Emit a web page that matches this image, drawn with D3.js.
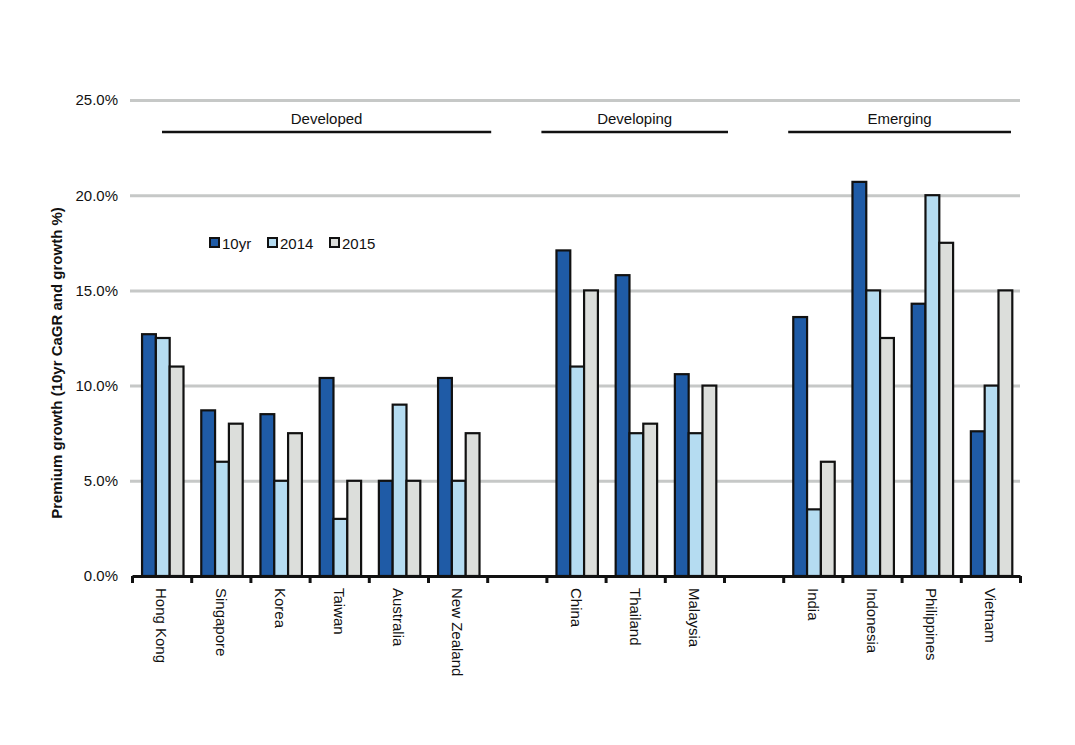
<!DOCTYPE html>
<html>
<head>
<meta charset="utf-8">
<script src="https://cdn.jsdelivr.net/npm/d3@7/dist/d3.min.js"></script>
<style>
	body { margin: 0; background: #fff; }
	svg text { font-family: "Liberation Sans", Arial, sans-serif; fill: #111; }
</style>
</head>
<body>
<svg id="chart" width="1075" height="745"></svg>
<script>
var categories = ["Hong Kong", "Singapore", "Korea", "Taiwan", "Australia", "New Zealand",
	"China", "Thailand", "Malaysia",
	"India", "Indonesia", "Philippines", "Vietnam"];
var groupOf = ["Developed", "Developed", "Developed", "Developed", "Developed", "Developed",
	"Developing", "Developing", "Developing",
	"Emerging", "Emerging", "Emerging", "Emerging"];
var groupNames = ["Developed", "Developing", "Emerging"];
var seriesNames = ["10yr", "2014", "2015"];
var cagr10yr = [12.7, 8.7, 8.5, 10.4, 5.0, 10.4, 17.1, 15.8, 10.6, 13.6, 20.7, 14.3, 7.6];
var growth2014 = [12.5, 6.0, 5.0, 3.0, 9.0, 5.0, 11.0, 7.5, 7.5, 3.5, 15.0, 20.0, 10.0];
var growth2015 = [11.0, 8.0, 7.5, 5.0, 5.0, 7.5, 15.0, 8.0, 10.0, 6.0, 12.5, 17.5, 15.0];
var yTicks = [0, 5, 10, 15, 20, 25];
var yLabel = "Premium growth (10yr CaGR and growth %)";

var seriesValues = [cagr10yr, growth2014, growth2015];
var seriesColors = ["#1f5ba6", "#b5dcf1", "#dcdedb"];

var svg = d3.select("#chart");
var plotLeft = 132, plotRight = 1020, plotTop = 100, plotBottom = 576;

// one empty slot between groups
var slots = [];
groupNames.forEach(function(g, gi) {
	if (gi > 0) slots.push("gap" + gi);
	categories.forEach(function(c, i) {
		if (groupOf[i] == g) slots.push(c);
	});
});

var x = d3.scaleBand().domain(slots).range([plotLeft, plotRight]);
var xTick = d3.scaleLinear().domain([0, slots.length]).range([plotLeft, plotRight]);
var bw = x.bandwidth();
var xs = d3.scaleBand().domain(seriesNames).range([bw * 0.17, bw * 0.87]);
var y = d3.scaleLinear().domain([0, 25]).range([plotBottom, plotTop]);

// gridlines + y tick labels
var gy = svg.append("g")
	.attr("transform", "translate(" + (plotLeft - 2) + ",0)")
	.call(d3.axisLeft(y).tickValues(yTicks).tickSize(-(plotRight - plotLeft + 2)).tickPadding(12)
		.tickFormat(function(d) { return d.toFixed(1) + "%"; }));
gy.select(".domain").remove();
gy.selectAll(".tick line").attr("stroke", "#c6c8c7").attr("stroke-width", 3)
	.filter(function(d) { return d == 0; }).remove();
gy.selectAll(".tick text").attr("font-size", 15).attr("fill", "#111");

// bars
var rows = categories.map(function(c, i) {
	return seriesNames.map(function(s, si) {
		return { cat: c, series: s, si: si, value: seriesValues[si][i] };
	});
});
svg.append("g").selectAll("g")
	.data(rows)
	.join("g")
	.attr("transform", function(d) { return "translate(" + x(d[0].cat) + ",0)"; })
	.selectAll("rect")
	.data(function(d) { return d; })
	.join("rect")
	.attr("x", function(d) { return xs(d.series); })
	.attr("y", function(d) { return y(d.value); })
	.attr("width", xs.bandwidth())
	.attr("height", function(d) { return y(0) - y(d.value); })
	.attr("fill", function(d) { return seriesColors[d.si]; })
	.attr("stroke", "#111")
	.attr("stroke-width", 2.2);

// x axis with ticks at slot boundaries
var gx = svg.append("g")
	.attr("transform", "translate(0," + plotBottom + ")")
	.call(d3.axisBottom(xTick).tickValues(d3.range(slots.length + 1)).tickSize(7).tickSizeOuter(0)
		.tickFormat(""));
gx.select(".domain").attr("stroke", "#111").attr("stroke-width", 3);
gx.selectAll(".tick line").attr("stroke", "#111").attr("stroke-width", 3);

svg.append("g").selectAll("text")
	.data(categories)
	.join("text")
	.attr("transform", function(d) { return "translate(" + (x(d) + bw / 2) + "," + (plotBottom + 12) + ") rotate(90)"; })
	.attr("dy", "0.35em")
	.attr("font-size", 15)
	.text(function(d) { return d; });

// group headers
var insets = [[30, 4], [-5, 4], [5, -9]];
groupNames.forEach(function(g, gi) {
	var members = categories.filter(function(c, i) { return groupOf[i] == g; });
	var x0 = x(members[0]) + insets[gi][0];
	var x1 = x(members[members.length - 1]) + bw + insets[gi][1];
	svg.append("line")
		.attr("x1", x0).attr("x2", x1)
		.attr("y1", 132).attr("y2", 132)
		.attr("stroke", "#111").attr("stroke-width", 2.5);
	svg.append("text")
		.attr("x", (x0 + x1) / 2).attr("y", 124)
		.attr("text-anchor", "middle")
		.attr("font-size", 15)
		.text(g);
});

// legend
var lg = svg.append("g").selectAll("g")
	.data(seriesNames)
	.join("g")
	.attr("transform", function(d, i) { return "translate(" + [210, 268, 330][i] + ",238)"; });
lg.append("rect")
	.attr("width", 9).attr("height", 9)
	.attr("fill", function(d, i) { return seriesColors[i]; })
	.attr("stroke", "#111").attr("stroke-width", 2);
lg.append("text")
	.attr("x", 12).attr("y", 11)
	.attr("font-size", 15)
	.text(function(d) { return d; });

// y axis title
svg.append("text")
	.attr("transform", "translate(62,363) rotate(-90)")
	.attr("text-anchor", "middle")
	.attr("font-size", 15)
	.attr("font-weight", "bold")
	.text(yLabel);
</script>
</body>
</html>
